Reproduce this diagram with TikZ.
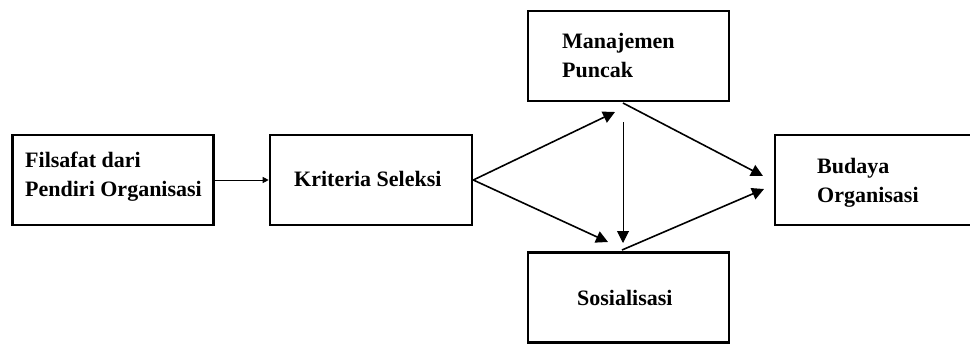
\documentclass[tikz,border=0pt]{standalone}
\usepackage{fontspec}
\setmainfont{Liberation Serif}
\usetikzlibrary{arrows.meta}
\begin{document}
\begin{tikzpicture}[x=1pt,y=-1pt,
  box/.style={draw, line width=2.6pt, inner sep=0pt},
  lbl/.style={anchor=base west, inner sep=0pt, font=\fontsize{22}{29}\selectfont\bfseries},
  conn/.style={line width=1.6pt, -{Triangle[length=12pt,width=12pt]}},
  thin/.style={line width=0.9pt, -{Triangle[length=6pt,width=6pt]}}]
\useasboundingbox (0,0) rectangle (970,346);
% boxes
\node[box, minimum width=201pt, minimum height=90pt] (A) at (113,180) {};
\node[box, minimum width=202pt, minimum height=90pt] (B) at (371,180) {};
\node[box, minimum width=201pt, minimum height=90pt] (C) at (628.5,56) {};
\node[box, minimum width=196pt, minimum height=90pt] (D) at (873,180) {};
\node[box, minimum width=201pt, minimum height=90pt] (E) at (628.5,297.5) {};
% labels
\node[lbl] (tA1) at (25,167) {Filsafat dari};
\node[lbl] (tA2) at (25,196) {Pendiri Organisasi};
\node[lbl] (tB) at (294,186) {Kriteria Seleksi};
\node[lbl] (tC1) at (562,48) {Manajemen};
\node[lbl] (tC2) at (562,77) {Puncak};
\node[lbl] (tD1) at (817,173) {Budaya};
\node[lbl] (tD2) at (817,202) {Organisasi};
\node[lbl] (tE) at (577,305) {Sosialisasi};
% free ends
\coordinate (tipC) at (615,112);
\coordinate (tipE1) at (608,242);
\coordinate (vs) at (623,122);
\coordinate (tipE2) at (623,243);
\coordinate (cs) at (623,103);
\coordinate (tipD1) at (763,176);
\coordinate (es) at (622,250);
\coordinate (tipD2) at (764,189);
% connectors
\draw[thin] (A.east) -- (B.west);
\draw[conn] (B.east) -- (tipC);
\draw[conn] (B.east) -- (tipE1);
\draw[conn, line width=1pt] (vs) -- (tipE2);
\draw[conn] (cs) -- (tipD1);
\draw[conn] (es) -- (tipD2);
\end{tikzpicture}
\end{document}
